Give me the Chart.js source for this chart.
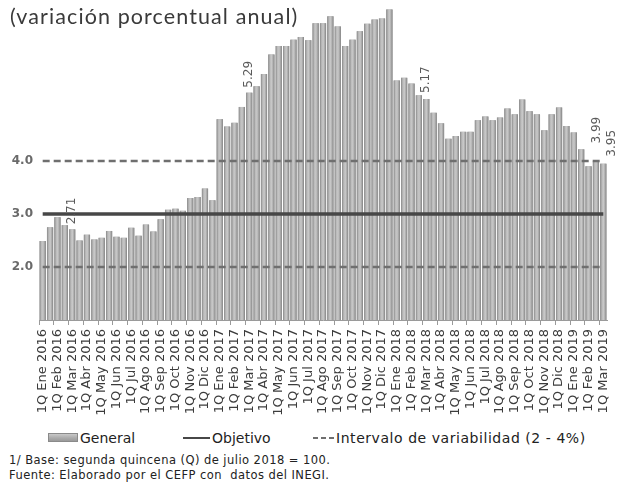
<!DOCTYPE html>
<html><head><meta charset="utf-8">
<script src="https://cdn.jsdelivr.net/npm/chart.js@4.4.1/dist/chart.umd.min.js"></script>
<style>
html,body{margin:0;padding:0;background:#fff;}
#wrap{position:relative;width:623px;height:485px;overflow:hidden;font-family:"DejaVu Sans",sans-serif;}
#title{position:absolute;left:10px;top:3px;font-family:Lato,sans-serif;font-size:21.5px;color:#3a3a3a;letter-spacing:1.1px;}
#notes{position:absolute;left:9px;top:453px;font-size:11.5px;letter-spacing:0.45px;line-height:15px;color:#222;}
canvas{position:absolute;left:0;top:0;}
.lg{position:absolute;top:429px;font-size:14px;line-height:18px;color:#222;white-space:nowrap;}
.sw{position:absolute;}
#sw0{left:48px;top:433px;width:30px;height:9px;box-sizing:border-box;border:1px solid #8a8a8a;
     background:linear-gradient(to bottom,#c8c8c8,#a9a9a9 60%,#9a9a9a);}
#sw1{left:183px;top:437px;width:27px;height:2px;background:#474747;}
#sw2{left:313px;top:437px;width:21px;height:2px;background:repeating-linear-gradient(to right,#6f6f6f 0 5px,transparent 5px 8px);}
</style></head>
<body><div id="wrap">
<canvas id="c" width="623" height="421"></canvas>
<div id="title">(variación porcentual anual)</div>
<div class="sw" id="sw0"></div><div class="lg" id="lg0" style="left:80px;"></div>
<div class="sw" id="sw1"></div><div class="lg" id="lg1" style="left:212px;"></div>
<div class="sw" id="sw2"></div><div class="lg" id="lg2" style="left:336px;letter-spacing:0.55px;"></div>
<div id="notes">1/ Base: segunda quincena (Q) de julio 2018 = 100.<br>Fuente: Elaborado por el CEFP con&nbsp; datos del INEGI.</div>
</div>
<script>
const categories = [
'1Q Ene 2016','2Q Ene 2016','1Q Feb 2016','2Q Feb 2016','1Q Mar 2016','2Q Mar 2016','1Q Abr 2016','2Q Abr 2016','1Q May 2016','2Q May 2016','1Q Jun 2016','2Q Jun 2016',
'1Q Jul 2016','2Q Jul 2016','1Q Ago 2016','2Q Ago 2016','1Q Sep 2016','2Q Sep 2016','1Q Oct 2016','2Q Oct 2016','1Q Nov 2016','2Q Nov 2016','1Q Dic 2016','2Q Dic 2016',
'1Q Ene 2017','2Q Ene 2017','1Q Feb 2017','2Q Feb 2017','1Q Mar 2017','2Q Mar 2017','1Q Abr 2017','2Q Abr 2017','1Q May 2017','2Q May 2017','1Q Jun 2017','2Q Jun 2017',
'1Q Jul 2017','2Q Jul 2017','1Q Ago 2017','2Q Ago 2017','1Q Sep 2017','2Q Sep 2017','1Q Oct 2017','2Q Oct 2017','1Q Nov 2017','2Q Nov 2017','1Q Dic 2017','2Q Dic 2017',
'1Q Ene 2018','2Q Ene 2018','1Q Feb 2018','2Q Feb 2018','1Q Mar 2018','2Q Mar 2018','1Q Abr 2018','2Q Abr 2018','1Q May 2018','2Q May 2018','1Q Jun 2018','2Q Jun 2018',
'1Q Jul 2018','2Q Jul 2018','1Q Ago 2018','2Q Ago 2018','1Q Sep 2018','2Q Sep 2018','1Q Oct 2018','2Q Oct 2018','1Q Nov 2018','2Q Nov 2018','1Q Dic 2018','2Q Dic 2018',
'1Q Ene 2019','2Q Ene 2019','1Q Feb 2019','2Q Feb 2019','1Q Mar 2019'];
const general = [
2.49,2.75,2.94,2.79,2.71,2.50,2.61,2.52,2.55,2.68,2.57,2.55,
2.74,2.59,2.80,2.67,2.90,3.08,3.10,3.06,3.30,3.32,3.48,3.26,
4.79,4.65,4.72,5.02,5.29,5.41,5.64,6.01,6.17,6.17,6.29,6.34,
6.28,6.60,6.60,6.73,6.54,6.17,6.29,6.45,6.59,6.67,6.69,6.86,
5.52,5.57,5.46,5.24,5.17,4.91,4.71,4.42,4.47,4.55,4.55,4.77,
4.84,4.77,4.82,4.99,4.88,5.16,4.94,4.88,4.58,4.88,5.01,4.66,
4.54,4.22,3.90,3.99,3.95];
const objetivo = 3.0;
const limiteInferior = 2.0;
const limiteSuperior = 4.0;
const seriesNames = ['General', 'Objetivo', 'Intervalo de variabilidad (2 - 4%)'];
const yTickLabels = ['2.0','3.0','4.0'];
const labeledPoints = [4, 28, 52, 75, 76];
const labelStyle = {4:{dx:0,gap:5},28:{dx:0,gap:5},52:{dx:0,gap:6},75:{dx:1,gap:18},76:{dx:9,gap:7}};

seriesNames.forEach((t, i) => { document.getElementById('lg' + i).textContent = t; });

const fill = v => categories.map(() => v);

const shadePlugin = {
  id: 'shade',
  afterDatasetDraw(chart, args) {
    if (args.index !== 0) return;
    const ctx = chart.ctx;
    const a = chart.chartArea;
    const meta = chart.getDatasetMeta(0);
    ctx.save();
    ctx.beginPath();
    ctx.rect(a.left, a.top, a.right - a.left, a.bottom - a.top);
    ctx.clip();
    meta.data.forEach(el => {
      const p = el.getProps(['x','y','base','width'], true);
      const l = p.x - p.width/2;
      const g = ctx.createLinearGradient(l, 0, l + p.width, 0);
      g.addColorStop(0, '#888888');
      g.addColorStop(0.3, '#bcbcbc');
      g.addColorStop(0.55, '#c8c8c8');
      g.addColorStop(0.8, '#a6a6a6');
      g.addColorStop(1, '#808080');
      ctx.fillStyle = g;
      ctx.fillRect(l, p.y, p.width, p.base - p.y);
    });
    ctx.restore();
  },
  afterDatasetsDraw(chart) {
    const ctx = chart.ctx;
    const meta = chart.getDatasetMeta(0);
    ctx.save();
    ctx.font = '12px "DejaVu Sans", sans-serif';
    ctx.fillStyle = '#5a5a5a';
    ctx.textAlign = 'left';
    ctx.textBaseline = 'middle';
    labeledPoints.forEach(i => {
      const el = meta.data[i];
      const st = labelStyle[i];
      ctx.save();
      ctx.translate(el.x + st.dx, el.y - st.gap);
      ctx.rotate(-Math.PI/2);
      ctx.fillText(general[i].toFixed(2), 0, 0);
      ctx.restore();
    });
    ctx.restore();
  }
};

new Chart(document.getElementById('c'), {
  data: {
    labels: categories,
    datasets: [
      {type:'bar', label:seriesNames[0], data: general, backgroundColor:'#a8a8a8', borderWidth:0,
       barPercentage:0.84, categoryPercentage:1.0, order:2},
      {type:'line', label:seriesNames[1], data: fill(objetivo), borderColor:'#474747', borderWidth:3.5,
       pointRadius:0, fill:false, order:0},
      {type:'line', label:seriesNames[2], data: fill(limiteSuperior), borderColor:'#6f6f6f', borderWidth:2.5,
       borderDash:[7,4], pointRadius:0, fill:false, order:1},
      {type:'line', label:seriesNames[2], data: fill(limiteInferior), borderColor:'#6f6f6f', borderWidth:2.5,
       borderDash:[7,4], pointRadius:0, fill:false, order:1}
    ]
  },
  options: {
    responsive:false, animation:false,
    layout:{padding:{top:2,left:0,right:16,bottom:0}},
    plugins:{ tooltip:{enabled:false}, title:{display:false}, legend:{display:false} },
    scales:{
      x:{
        offset:true,
        grid:{display:true, drawOnChartArea:false, drawTicks:true, tickLength:5,
              color: c => (c.index % 2 === 0 ? '#9a9a9a' : 'rgba(0,0,0,0)')},
        border:{display:true, color:'#9a9a9a'},
        ticks:{autoSkip:false, minRotation:90, maxRotation:90, padding:4,
               font:{family:'"DejaVu Sans", sans-serif', size:13}, color:'#3c3c3c',
               callback:(v,i)=> categories[i].startsWith('1Q') ? categories[i] : ''},
        afterFit(s){ s.height = 101; s.paddingLeft = 0; s.paddingRight = 0; }
      },
      y:{
        min:1, max:7,
        grid:{display:false, drawTicks:false},
        border:{display:false},
        ticks:{stepSize:1, padding:6, font:{family:'"DejaVu Sans", sans-serif', size:12, weight:'bold'}, color:'#6a6a6a',
               callback:v => { const t = Number(v).toFixed(1); return yTickLabels.includes(t) ? t : ''; }},
        afterFit(s){ s.width = 39; s.paddingTop = 0; s.paddingBottom = 0; }
      }
    }
  },
  plugins:[shadePlugin]
});
</script>
</body></html>
